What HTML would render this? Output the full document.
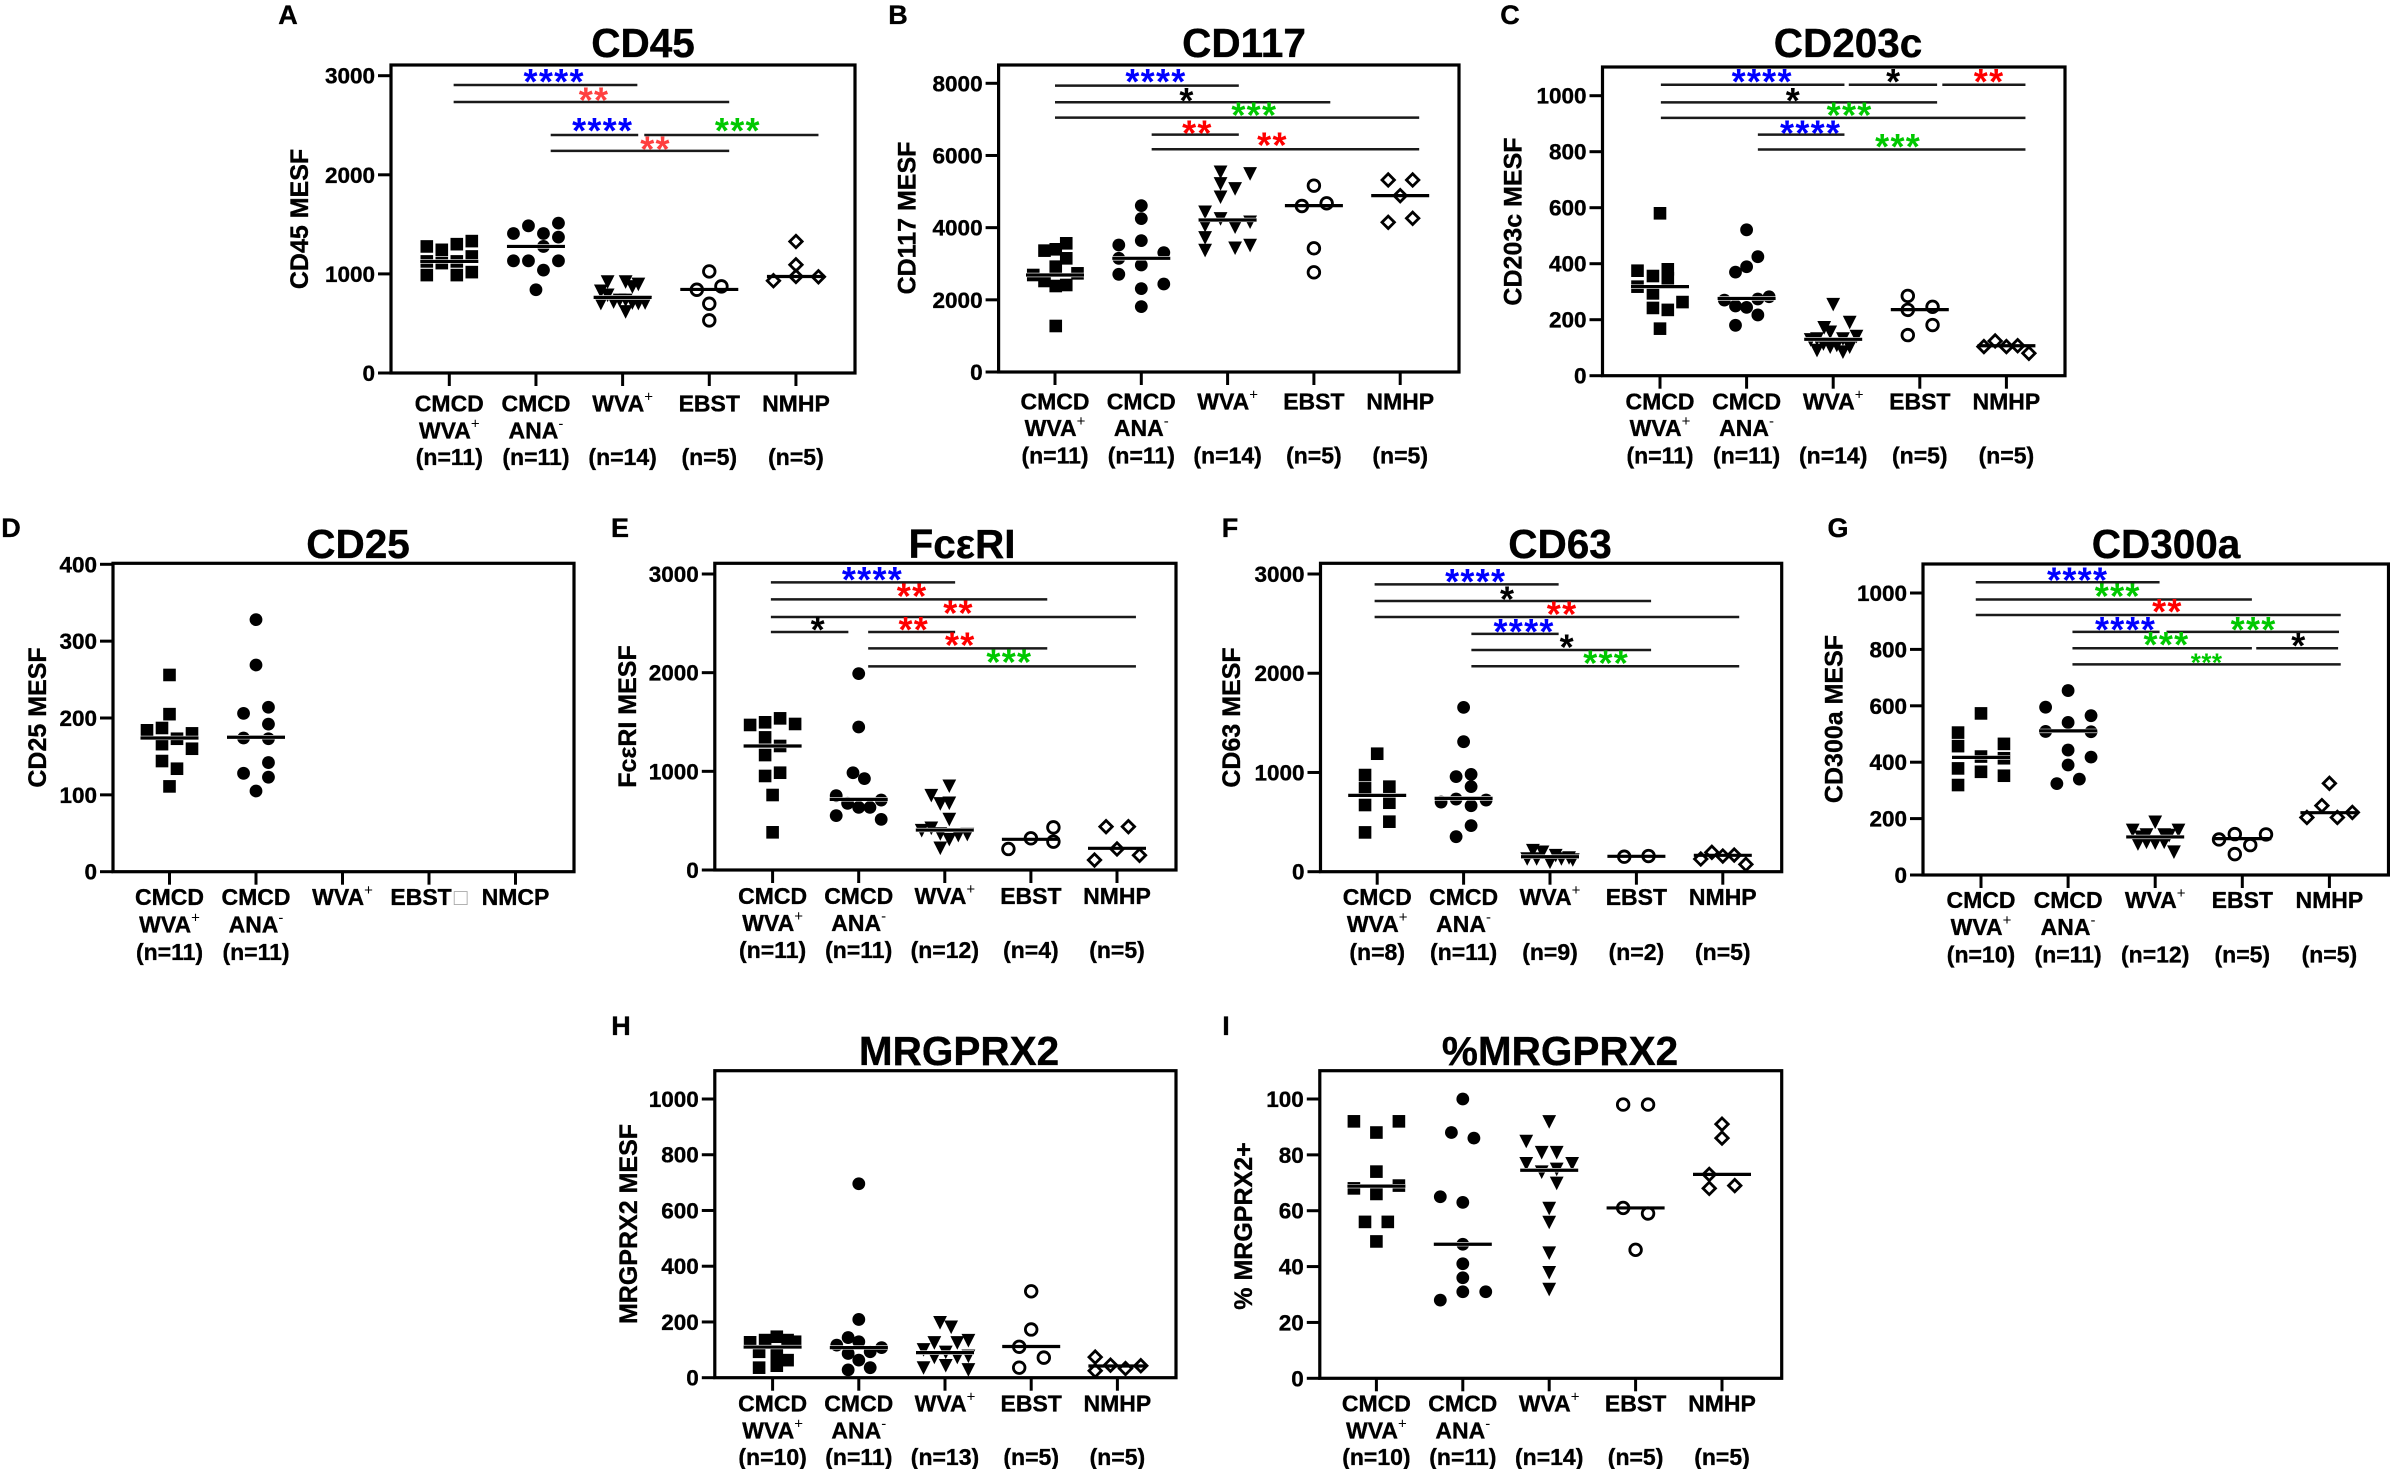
<!DOCTYPE html>
<html lang="en">
<head>
<meta charset="utf-8">
<title>Mast cell surface marker panels</title>
<style>
html,body{margin:0;padding:0;background:#fff;}
svg{display:block;}
text{font-family:"Liberation Sans","DejaVu Sans",sans-serif;font-weight:bold;fill:#000;stroke:#000;stroke-width:.35px;}
.panel-title{font-size:40.5px;text-anchor:middle;}
.y-title{font-size:25px;text-anchor:middle;}
.panel-letter{font-size:27px;text-anchor:middle;}
</style>
</head>
<body>
<svg id="figure" xmlns="http://www.w3.org/2000/svg" width="2390" height="1469" viewBox="0 0 2390 1469" style="width:2390px;height:1469px;overflow:hidden">
<rect x="0" y="0" width="2390" height="1469" fill="#fff"/>

<text class="panel-letter" x="288" y="24">A</text>
<text class="panel-letter" x="898" y="24">B</text>
<text class="panel-letter" x="1510" y="24">C</text>
<text class="panel-letter" x="11" y="537">D</text>
<text class="panel-letter" x="620" y="537">E</text>
<text class="panel-letter" x="1230" y="537">F</text>
<text class="panel-letter" x="1838" y="537">G</text>
<text class="panel-letter" x="621" y="1035">H</text>
<text class="panel-letter" x="1226" y="1035">I</text>

<text class="panel-title" x="643" y="57">CD45</text>
<text class="panel-title" x="1244" y="57">CD117</text>
<text class="panel-title" x="1848" y="57">CD203c</text>
<text class="panel-title" x="358" y="558">CD25</text>
<text class="panel-title" x="962" y="558">FcεRI</text>
<text class="panel-title" x="1560" y="558">CD63</text>
<text class="panel-title" x="2166" y="558">CD300a</text>
<text class="panel-title" x="959" y="1065">MRGPRX2</text>
<text class="panel-title" x="1560" y="1065">%MRGPRX2</text>

<text class="y-title" transform="translate(308 219) rotate(-90)">CD45 MESF</text>
<text class="y-title" transform="translate(915.5 218) rotate(-90)">CD117 MESF</text>
<text class="y-title" transform="translate(1521.5 221.5) rotate(-90)">CD203c MESF</text>
<text class="y-title" transform="translate(46 717.5) rotate(-90)">CD25 MESF</text>
<text class="y-title" transform="translate(636 716.5) rotate(-90)">FcεRI MESF</text>
<text class="y-title" transform="translate(1240 717.5) rotate(-90)">CD63 MESF</text>
<text class="y-title" transform="translate(1842.5 719) rotate(-90)">CD300a MESF</text>
<text class="y-title" transform="translate(637 1224) rotate(-90)">MRGPRX2 MESF</text>
<text class="y-title" transform="translate(1252 1226) rotate(-90)">% MRGPRX2+</text>
</svg>

<script>
// ---------- shared categories ----------
const groupKeys = ['cmcd-wva', 'cmcd-ana', 'wva', 'ebst', 'nmhp'];
const groupLabels = [['CMCD', 'WVA+'], ['CMCD', 'ANA-'], ['WVA+'], ['EBST'], ['NMHP']];
const cd25Labels = [['CMCD', 'WVA+'], ['CMCD', 'ANA-'], ['WVA+'], ['EBST□'], ['NMCP']];

// Significance bars: [from group, to group, value level, stars, colour, star group, star level, small?]
// ---------- CD45 ----------
const cd45Ticks = [0, 1000, 2000, 3000];
const cd45Counts = ['(n=11)', '(n=11)', '(n=14)', '(n=5)', '(n=5)'];
const cd45Values = [
  [1277, 1126, 988, 1243, 1109, 1300, 1126, 988, 1331, 1176, 1018],
  [1408, 1132, 1485, 1132, 1408, 1277, 1038, 840, 1512, 1371, 1132],
  [924, 830, 790, 706, 722, 924, 874, 900, 622, 739, 739, 712, 706, 712],
  [1025, 840, 874, 699, 531],
  [1327, 1092, 931, 974, 971]
];
const cd45Swarm = [
  [-1.5, -1.5, -1.5, -.5, -.5, .5, .5, .5, 1.5, 1.5, 1.5],
  [-1.5, -1.5, -.5, -.5, .5, .5, .5, 0, 1.5, 1.5, 1.5],
  [-1, -1.45, -1, -1.45, -.6, .2, .65, 1.05, .2, -.2, .2, .65, 1.05, 1.5],
  [0, -.83, .81, 0, 0],
  [0, 0, -1.5, 0, 1.5]
];
const cd45Medians = [1126, 1277, 763, 843, 974];
const cd45Bars = [
  [.05, 2.17, 2906, '****', '#0000ff', 1.21, 2997],
  [.05, 3.23, 2735, '**', '#ff4040', 1.67, 2812],
  [1.17, 2.18, 2402, '****', '#0000ff', 1.77, 2503],
  [2.25, 4.26, 2402, '***', '#00c800', 3.33, 2503],
  [1.17, 3.23, 2241, '**', '#ff4040', 2.38, 2318]
];

// ---------- CD117 ----------
const cd117Ticks = [0, 2000, 4000, 6000, 8000];
const cd117Counts = ['(n=11)', '(n=11)', '(n=14)', '(n=5)', '(n=5)'];
const cd117Values = [
  [3566, 3363, 3400, 3150, 2919, 2688, 2734, 2522, 2383, 2411, 1275],
  [4610, 4250, 3520, 3640, 3307, 3150, 2965, 2707, 2439, 2310, 1811],
  [5552, 5506, 5229, 5090, 4859, 4443, 4259, 4074, 4028, 4166, 3732, 3520, 3446, 3381],
  [5164, 4600, 4674, 3427, 2762],
  [5321, 5321, 4887, 4148, 4259]
];
const cd117Swarm = [
  [.75, -.7, .05, .75, .05, -1.45, 1.5, -.7, .05, .75, .05],
  [0, 0, -1.5, 0, 1.5, -1.5, 0, -1.5, 1.5, 0, 0],
  [-.47, 1.5, -.47, .5, -.47, -1.5, -.47, -1.5, .5, 1.5, -1.5, 1.5, .5, -1.5],
  [0, -.8, .85, 0, 0],
  [-.8, .83, 0, -.8, .83]
];
const cd117Medians = [2688, 3150, 4213, 4610, 4887];
const cd117Bars = [
  [0, 2.13, 7935, '****', '#0000ff', 1.17, 8203],
  [0, 3.19, 7474, '*', '#000', 1.53, 7677],
  [0, 4.22, 7049, '***', '#00c800', 2.31, 7280],
  [1.12, 2.13, 6577, '**', '#ff0000', 1.65, 6781],
  [1.12, 4.22, 6171, '**', '#ff0000', 2.52, 6448]
];

// ---------- CD203c ----------
const cd203cTicks = [0, 200, 400, 600, 800, 1000];
const cd203cCounts = ['(n=11)', '(n=11)', '(n=14)', '(n=5)', '(n=5)'];
const cd203cValues = [
  [580, 375, 356, 380, 348, 318, 294, 263, 242, 235, 168],
  [521, 425, 389, 370, 270, 274, 282, 249, 244, 217, 180],
  [256, 192, 173, 157, 130, 133, 133, 142, 92, 115, 104, 110, 86, 104],
  [285, 235, 246, 181, 145],
  [104, 124, 104, 107, 80]
];
const cd203cSwarm = [
  [0, -1.5, -.47, .52, .52, -1.5, -.47, 1.5, -.47, .52, 0],
  [0, .75, 0, -.74, -1.48, .75, 1.5, -.74, 0, .75, -.74],
  [0, 1.1, -.6, -.2, -1.5, -1.08, .65, 1.55, -1.08, -.65, -.2, .24, .65, 1.1],
  [-.8, -.8, .85, .85, -.8],
  [-1.5, -.75, 0, .75, 1.5]
];
const cd203cMedians = [318, 276, 130, 236, 107];
const cd203cBars = [
  [.01, 2.13, 1039, '****', '#0000ff', 1.18, 1070],
  [2.18, 3.2, 1039, '*', '#000', 2.7, 1070],
  [3.26, 4.22, 1039, '**', '#ff0000', 3.8, 1070],
  [.01, 3.2, 976, '*', '#000', 1.54, 1002],
  [.01, 4.22, 921, '***', '#00c800', 2.19, 951],
  [1.13, 2.13, 861, '****', '#0000ff', 1.74, 887],
  [1.13, 4.22, 808, '***', '#00c800', 2.75, 839]
];

// ---------- CD25 ----------
const cd25Ticks = [0, 100, 200, 300, 400];
const cd25Counts = ['(n=11)', '(n=11)', '', '', ''];
const cd25Values = [
  [256, 205, 184, 187, 180, 173, 166, 160, 144, 134, 111],
  [328, 269, 206, 214, 192, 174, 173, 142, 128, 123, 105],
  [], [], []
];
const cd25Swarm = [
  [0, 0, -1.5, -.5, 1.5, .5, -.5, 1.5, -.5, .5, 0],
  [0, 0, -.83, .83, .83, -.83, .83, .83, -.83, .83, 0],
  [], [], []
];
const cd25Medians = [174, 175, null, null, null];
const cd25Bars = [];

// ---------- FceRI ----------
const fceriTicks = [0, 1000, 2000, 3000];
const fceriCounts = ['(n=11)', '(n=11)', '(n=12)', '(n=4)', '(n=5)'];
const fceriValues = [
  [1470, 1497, 1537, 1480, 1344, 1257, 1165, 986, 953, 760, 382],
  [1990, 1449, 986, 926, 753, 709, 676, 635, 635, 551, 513],
  [855, 760, 676, 682, 517, 429, 405, 372, 314, 355, 365, 226],
  [432, 321, 287, 213],
  [439, 439, 213, 149, 101]
];
const fceriSwarm = [
  [-1.5, -.5, .5, 1.5, -.5, .5, -.5, .5, -.5, 0, 0],
  [0, 0, -.38, .38, -1.5, 1.5, -.74, 0, .75, -1.5, 1.5],
  [.3, -.9, -.3, .3, .3, -.9, -1.54, -.3, .3, .9, 1.5, -.3],
  [1.5, 0, 1.5, -1.5],
  [-.73, .76, 0, 1.5, -1.5]
];
const fceriMedians = [1257, 716, 405, 311, 220];
const fceriBars = [
  [-.02, 2.12, 2915, '****', '#0000ff', 1.16, 3000],
  [-.02, 3.19, 2743, '**', '#ff0000', 1.62, 2831],
  [-.02, 4.22, 2564, '**', '#ff0000', 2.16, 2662],
  [-.02, .88, 2412, '*', '#000', .53, 2493],
  [1.11, 2.12, 2412, '**', '#ff0000', 1.64, 2493],
  [1.11, 3.19, 2246, '**', '#ff0000', 2.18, 2338],
  [1.11, 4.22, 2064, '***', '#00c800', 2.75, 2162]
];

// ---------- CD63 ----------
const cd63Ticks = [0, 1000, 2000, 3000];
const cd63Counts = ['(n=8)', '(n=11)', '(n=9)', '(n=2)', '(n=5)'];
const cd63Values = [
  [1189, 974, 840, 857, 695, 672, 504, 396],
  [1656, 1310, 958, 981, 857, 732, 702, 722, 665, 464, 353],
  [218, 202, 134, 134, 101, 168, 134, 144, 124],
  [151, 158],
  [128, 195, 158, 168, 74]
];
const cd63Swarm = [
  [0, -.81, -.81, .81, .81, -.81, .81, -.81],
  [0, 0, -.5, .5, .5, -.5, -1.5, 1.5, .5, .5, -.5],
  [-1.14, -.5, -1.52, -.89, 0, .38, .76, 1.27, 1.52],
  [-.81, .81],
  [-1.47, -.73, 0, .76, 1.54]
];
const cd63Medians = [769, 739, 151, 155, 165];
const cd63Bars = [
  [-.03, 2.1, 2896, '****', '#0000ff', 1.14, 2980],
  [-.03, 3.17, 2728, '*', '#000', 1.51, 2806],
  [-.03, 4.19, 2567, '**', '#ff0000', 2.14, 2654],
  [1.09, 2.1, 2396, '****', '#0000ff', 1.7, 2476],
  [1.09, 3.17, 2234, '*', '#000', 2.2, 2318],
  [1.09, 4.19, 2070, '***', '#00c800', 2.65, 2157]
];

// ---------- CD300a ----------
const cd300aTicks = [0, 200, 400, 600, 800, 1000];
const cd300aCounts = ['(n=10)', '(n=11)', '(n=12)', '(n=5)', '(n=5)'];
const cd300aValues = [
  [505, 457, 573, 465, 378, 420, 414, 366, 352, 319],
  [654, 595, 565, 541, 509, 508, 443, 418, 390, 340, 324],
  [189, 160, 160, 144, 144, 136, 142, 112, 115, 118, 118, 83],
  [145, 144, 126, 106, 74],
  [325, 246, 222, 204, 204]
];
const cd300aSwarm = [
  [-1.53, -1.53, 0, 1.53, -1.53, 0, 1.53, 0, 1.53, -1.53],
  [0, -1.5, 1.53, 0, -1.5, 1.53, 0, 1.53, 0, .75, -.75],
  [0, -1.5, 1.55, -.58, .6, -.95, .93, -1.15, 0, -.58, .6, 1.25],
  [-.5, 1.58, -1.55, .53, -.5],
  [0, -.5, 1.53, -1.5, .53]
];
const cd300aMedians = [417, 511, 135, 129, 221];
const cd300aBars = [
  [-.06, 2.05, 1038, '****', '#0000ff', 1.11, 1065],
  [-.06, 3.11, 977, '***', '#00c800', 1.57, 1008],
  [-.06, 4.13, 922, '**', '#ff0000', 2.14, 954],
  [1.05, 2.05, 862, '****', '#0000ff', 1.66, 890],
  [2.13, 4.11, 862, '***', '#00c800', 3.13, 890],
  [1.05, 3.11, 804, '***', '#00c800', 2.13, 836],
  [3.16, 4.1, 804, '*', '#000', 3.65, 833],
  [1.05, 4.13, 747, '***', '#00c800', 2.59, 768, true]
];

// ---------- MRGPRX2 ----------
const mrgprx2Ticks = [0, 200, 400, 600, 800, 1000];
const mrgprx2Counts = ['(n=10)', '(n=11)', '(n=13)', '(n=5)', '(n=5)'];
const mrgprx2Values = [
  [127, 135, 147, 129, 135, 93, 87, 63, 43, 36],
  [696, 209, 144, 129, 117, 108, 93, 87, 63, 36, 28],
  [199, 183, 135, 127, 127, 102, 93, 75, 75, 79, 45, 37, 30],
  [310, 173, 111, 72, 36],
  [74, 45, 33, 43, 25]
];
const mrgprx2Swarm = [
  [-1.5, -.5, .28, 1.5, 1, -.9, .28, 1, .28, -.9],
  [0, 0, -.71, 0, -1.47, 1.52, .76, -.71, 0, .76, -.71],
  [-.33, .41, 1.56, -.71, .82, -1.43, .05, -.71, .82, 1.56, .05, -1.43, 1.56],
  [0, 0, -.8, .84, -.8],
  [-1.48, -.46, .54, 1.56, -1.48]
];
const mrgprx2Medians = [110, 108, 90, 112, 42];
const mrgprx2Bars = [];

// ---------- %MRGPRX2 ----------
const pctTicks = [0, 20, 40, 60, 80, 100];
const pctCounts = ['(n=10)', '(n=11)', '(n=14)', '(n=5)', '(n=5)'];
const pctValues = [
  [92, 88, 92, 74, 68, 69, 66, 56, 56, 49],
  [100, 88, 86, 65, 63, 48, 41, 36, 31, 31, 28],
  [92, 85, 81, 81, 77, 77, 74, 75, 70, 61, 56, 45, 38, 32],
  [98, 98, 61, 59, 46],
  [91, 86, 73, 68, 69]
];
const pctSwarm = [
  [-1.5, 0, 1.5, 0, -1.5, 1.5, 0, -.76, .76, 0],
  [0, -.76, .74, -1.5, 0, 0, 0, 0, 0, 1.53, -1.5],
  [0, -1.53, -.5, .5, -1.53, 1.53, -.5, .5, .5, 0, 0, 0, 0, 0],
  [-.83, .83, -.83, .83, 0],
  [0, 0, -.85, -.85, .85]
];
const pctMedians = [68.8, 48, 74.5, 61, 73];
const pctBars = [];

// ---------- layout (axis frames, separate from the data) ----------
const SLOT = 15;
const HALF_MEDIAN = 29;
const panels = [
  {id:'cd45', ticks:cd45Ticks, counts:cd45Counts, values:cd45Values, swarm:cd45Swarm, medians:cd45Medians, bars:cd45Bars, labels:groupLabels,
   L:391, R:855, T:65, B:373, x0:449.3, dx:86.66, topY:75.7, rows:[411.7,438.3,465]},
  {id:'cd117', ticks:cd117Ticks, counts:cd117Counts, values:cd117Values, swarm:cd117Swarm, medians:cd117Medians, bars:cd117Bars, labels:groupLabels,
   L:998.6, R:1459, T:65, B:372, x0:1055, dx:86.3, topY:83.3, rows:[409.3,436,463.3]},
  {id:'cd203c', ticks:cd203cTicks, counts:cd203cCounts, values:cd203cValues, swarm:cd203cSwarm, medians:cd203cMedians, bars:cd203cBars, labels:groupLabels,
   L:1602.5, R:2065, T:67, B:375.7, x0:1660, dx:86.6, topY:95.7, rows:[409.3,436,463.3]},
  {id:'cd25', ticks:cd25Ticks, counts:cd25Counts, values:cd25Values, swarm:cd25Swarm, medians:cd25Medians, bars:cd25Bars, labels:cd25Labels,
   L:113, R:574, T:563.3, B:871.7, x0:169.5, dx:86.5, topY:564.3, rows:[905,932.3,960]},
  {id:'fceri', ticks:fceriTicks, counts:fceriCounts, values:fceriValues, swarm:fceriSwarm, medians:fceriMedians, bars:fceriBars, labels:groupLabels,
   L:714.8, R:1176, T:563.3, B:870, x0:772.6, dx:86.1, topY:574, rows:[904,931,958]},
  {id:'cd63', ticks:cd63Ticks, counts:cd63Counts, values:cd63Values, swarm:cd63Swarm, medians:cd63Medians, bars:cd63Bars, labels:groupLabels,
   L:1320.5, R:1781.7, T:563.3, B:871.7, x0:1377.2, dx:86.4, topY:574, rows:[905,932,960]},
  {id:'cd300a', ticks:cd300aTicks, counts:cd300aCounts, values:cd300aValues, swarm:cd300aSwarm, medians:cd300aMedians, bars:cd300aBars, labels:groupLabels,
   L:1923, R:2388.5, T:564, B:875, x0:1981, dx:87.1, topY:593, rows:[908,935,962.7]},
  {id:'mrgprx2', ticks:mrgprx2Ticks, counts:mrgprx2Counts, values:mrgprx2Values, swarm:mrgprx2Swarm, medians:mrgprx2Medians, bars:mrgprx2Bars, labels:groupLabels,
   L:714.8, R:1176, T:1070.7, B:1377.7, x0:772.6, dx:86.2, topY:1099, rows:[1411.7,1438.3,1465]},
  {id:'pct-mrgprx2', ticks:pctTicks, counts:pctCounts, values:pctValues, swarm:pctSwarm, medians:pctMedians, bars:pctBars, labels:groupLabels,
   L:1319.8, R:1781.7, T:1070.7, B:1378.3, x0:1376.4, dx:86.4, topY:1099, rows:[1411.7,1438.3,1465]}
];

const NS = 'http://www.w3.org/2000/svg';
const figure = document.getElementById('figure');

function make(tag, attrs, parent, name) {
  const el = document.createElementNS(NS, tag);
  for (const k in attrs) el.setAttribute(k, attrs[k]);
  
  
  parent.appendChild(el);
  return el;
}

function addLabelLine(parent, text, x, y, name) {
  const t = make('text', {x:x, y:y, 'text-anchor':'middle', 'font-size':'23'}, parent, name);
  const last = text.slice(-1);
  if (last === '+' || last === '-') {
    const base = document.createElementNS(NS, 'tspan');
    base.textContent = text.slice(0, -1);
    t.appendChild(base);
    const sup = document.createElementNS(NS, 'tspan');
    sup.setAttribute('dy', '-10');
    sup.setAttribute('font-size', '15');
    sup.setAttribute('style', 'font-weight:normal;stroke:none');
    sup.textContent = last;
    t.appendChild(sup);
  } else if (last === '□') {
    const base = document.createElementNS(NS, 'tspan');
    base.textContent = text.slice(0, -1);
    t.appendChild(base);
    const box = document.createElementNS(NS, 'tspan');
    box.setAttribute('dx', '2');
    box.setAttribute('style', 'fill:#a8a8a8;font-weight:normal;stroke:none');
    box.textContent = last;
    t.appendChild(box);
  } else {
    t.textContent = text;
  }
}

function addMarker(parent, group, cx, cy, name) {
  if (group === 0) {
    make('rect', {x:cx - 6.3, y:cy - 6.3, width:12.6, height:12.6, fill:'#000'}, parent, name);
  } else if (group === 1) {
    make('circle', {cx:cx, cy:cy, r:6.4, fill:'#000'}, parent, name);
  } else if (group === 2) {
    make('polygon', {points:[[cx - 6.9, cy - 6.2], [cx + 6.9, cy - 6.2], [cx, cy + 7.4]].join(' '), fill:'#000'}, parent, name);
  } else if (group === 3) {
    make('circle', {cx:cx, cy:cy, r:5.8, fill:'none', stroke:'#000', 'stroke-width':2.8}, parent, name);
  } else {
    make('polygon', {points:[[cx, cy - 6.2], [cx + 6.2, cy], [cx, cy + 6.2], [cx - 6.2, cy]].join(' '), fill:'none', stroke:'#000', 'stroke-width':2.8}, parent, name);
  }
}

panels.forEach(function (p) {
  const vmax = p.ticks[p.ticks.length - 1];
  const xScale = function (g) { return p.x0 + g * p.dx; };
  const yScale = function (v) { return p.B - (v / vmax) * (p.B - p.topY); };
  const g = make('g', {}, figure, p.id + '-chart');

  make('rect', {x:p.L, y:p.T, width:p.R - p.L, height:p.B - p.T, fill:'none', stroke:'#000', 'stroke-width':3.2}, g, p.id + '-plot-frame');

  p.ticks.forEach(function (tv) {
    const y = yScale(tv);
    make('line', {x1:p.L - 13, x2:p.L, y1:y, y2:y, stroke:'#000', 'stroke-width':3}, g, p.id + '-y-tick-' + tv);
    const t = make('text', {x:p.L - 16, y:y + 8, 'text-anchor':'end', 'font-size':'22.5'}, g, p.id + '-y-tick-label-' + tv);
    t.textContent = tv;
  });

  p.labels.forEach(function (lines, i) {
    const x = xScale(i);
    make('line', {x1:x, x2:x, y1:p.B, y2:p.B + 13, stroke:'#000', 'stroke-width':3}, g, p.id + '-x-tick-' + groupKeys[i]);
    lines.forEach(function (line, k) {
      addLabelLine(g, line, x, p.rows[k], p.id + '-x-label-' + groupKeys[i] + '-line-' + (k + 1));
    });
    if (p.counts[i]) {
      addLabelLine(g, p.counts[i], x, p.rows[2], p.id + '-x-count-' + groupKeys[i]);
    }
  });

  p.values.forEach(function (series, i) {
    series.forEach(function (v, k) {
      addMarker(g, i, xScale(i) + p.swarm[i][k] * SLOT, yScale(v), p.id + '-point-' + groupKeys[i]);
    });
    if (p.medians[i] !== null) {
      const my = yScale(p.medians[i]);
      if (i < 3) {
        make('line', {x1:xScale(i) - HALF_MEDIAN, x2:xScale(i) + HALF_MEDIAN, y1:my, y2:my, stroke:'#fff', 'stroke-width':4.4}, g, p.id + '-median-halo-' + groupKeys[i]);
      }
      make('line', {x1:xScale(i) - HALF_MEDIAN, x2:xScale(i) + HALF_MEDIAN, y1:my, y2:my, stroke:'#000', 'stroke-width':3.2}, g, p.id + '-median-' + groupKeys[i]);
    }
  });

  p.bars.forEach(function (b, n) {
    const y = yScale(b[2]);
    make('line', {x1:xScale(b[0]), x2:xScale(b[1]), y1:y, y2:y, stroke:'#1a1a1a', 'stroke-width':2.5}, g, p.id + '-significance-bar-' + (n + 1));
    const small = b[7] === true;
    const fs = small ? 26 : 36;
    const t = make('text', {x:xScale(b[5]), y:yScale(b[6]) + 0.5 * fs, 'text-anchor':'middle', 'font-size':fs, 'letter-spacing':small ? '.4' : '1.3', style:'stroke:none;fill:' + b[4]}, g, p.id + '-significance-stars-' + (n + 1));
    t.textContent = b[3];
  });
});
</script>
</body>
</html>
